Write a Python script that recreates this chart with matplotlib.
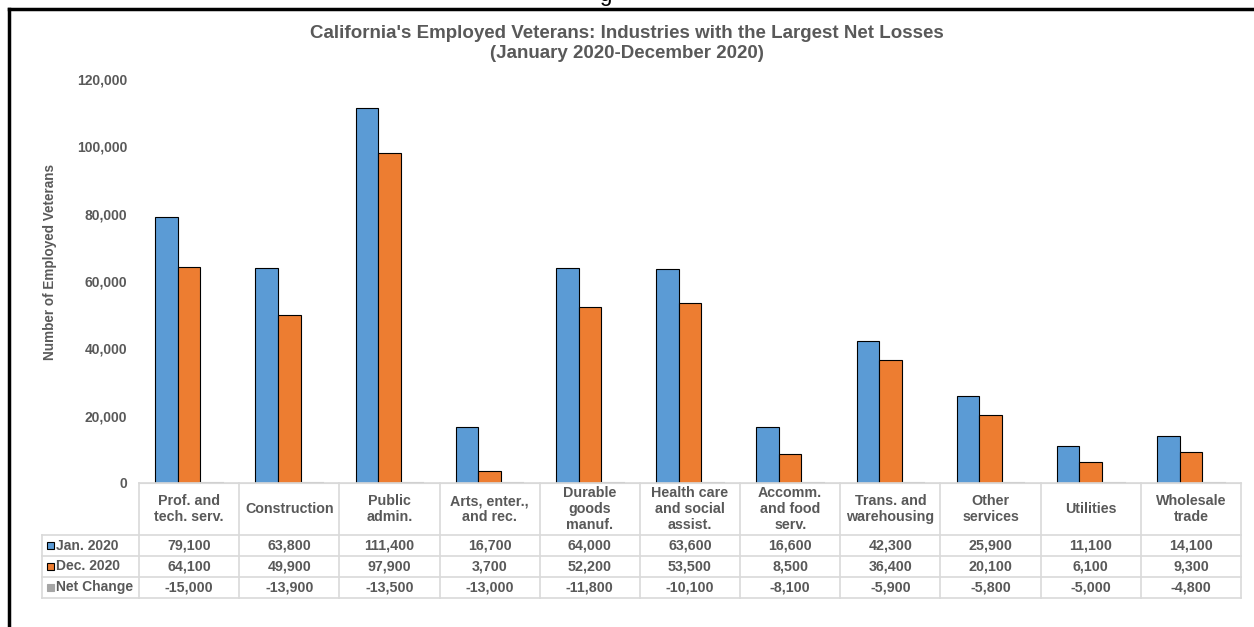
import numpy as np
import matplotlib
matplotlib.use("Agg")
import matplotlib.pyplot as plt
from matplotlib.lines import Line2D
from matplotlib.patches import Rectangle
import matplotlib.transforms as mtransforms

plt.rcParams['font.family'] = ['Liberation Sans', 'DejaVu Sans']

categories = ["Prof. and\ntech. serv.", "Construction", "Public\nadmin.", "Arts, enter.,\nand rec.",
              "Durable\ngoods\nmanuf.", "Health care\nand social\nassist.", "Accomm.\nand food\nserv.",
              "Trans. and\nwarehousing", "Other\nservices", "Utilities", "Wholesale\ntrade"]
jan_2020 = [79100, 63800, 111400, 16700, 64000, 63600, 16600, 42300, 25900, 11100, 14100]
dec_2020 = [64100, 49900, 97900, 3700, 52200, 53500, 8500, 36400, 20100, 6100, 9300]
net_change = [-15000, -13900, -13500, -13000, -11800, -10100, -8100, -5900, -5800, -5000, -4800]
series_names = ["Jan. 2020", "Dec. 2020", "Net Change"]
yticks = [0, 20000, 40000, 60000, 80000, 100000, 120000]

blue = '#5B9BD5'
orange = '#ED7D31'
gray = '#A5A5A5'
txt = '#595959'
grid = '#D9D9D9'

W, H = 1254, 627
fig = plt.figure(figsize=(W / 100, H / 100), dpi=100)

def fx(px):
    return px / W

def fy(py):
    return 1 - py / H

ax_left, ax_right, ax_bottom, ax_top = 139, 1241, 483, 79
ax = fig.add_axes([fx(ax_left), fy(ax_bottom), fx(ax_right - ax_left), fy(ax_top) - fy(ax_bottom)])

x = np.arange(len(categories))
w = 0.225
ax.bar(x - w, jan_2020, w, color=blue, edgecolor='black', linewidth=0.8)
ax.bar(x, dec_2020, w, color=orange, edgecolor='black', linewidth=0.8)
ax.bar(x + w, net_change, w, color=gray, edgecolor=gray, linewidth=1.5)

ax.set_xlim(-0.5, len(categories) - 0.5)
ax.set_ylim(0, 120000)
ax.set_yticks(yticks)
ax.set_yticklabels([f"{v:,}" for v in yticks], fontsize=10, fontweight='bold', color=txt)
ax.tick_params(axis='y', length=0, pad=8.5)
ax.set_xticks([])
for s in ['top', 'right', 'left']:
    ax.spines[s].set_visible(False)
ax.spines['bottom'].set_color(grid)

fig.text(fx(50), fy(262), "Number of Employed Veterans", rotation=90, ha='center', va='center',
         fontsize=9.75, fontweight='bold', color=txt)

fig.text(0.5, fy(34), "California's Employed Veterans: Industries with the Largest Net Losses",
         ha='center', va='center', fontsize=13.5, fontweight='bold', color=txt)
fig.text(0.5, fy(54), "(January 2020-December 2020)",
         ha='center', va='center', fontsize=13.5, fontweight='bold', color=txt)

# data table below the axis
trans = mtransforms.blended_transform_factory(ax.transData, fig.transFigure)
row_y = [483, 535, 556, 577, 598]
label_left = 42
n = len(categories)
lw = 1.2
for i, py in enumerate(row_y):
    x0 = ax_left if i == 0 else label_left
    fig.add_artist(Line2D([fx(x0), fx(ax_right)], [fy(py), fy(py)], color=grid, lw=lw))
for b in np.arange(-0.5, n, 1.0):
    fig.add_artist(Line2D([b, b], [fy(row_y[0]), fy(row_y[-1])], color=grid, lw=lw, transform=trans))
fig.add_artist(Line2D([fx(label_left), fx(label_left)], [fy(row_y[1]), fy(row_y[-1])], color=grid, lw=lw))

for i, c in enumerate(categories):
    fig.text(i, fy((row_y[0] + row_y[1]) / 2), c, transform=trans, ha='center', va='center',
             fontsize=10.3, fontweight='bold', color=txt, linespacing=1.15)

rows = [jan_2020, dec_2020, net_change]
keys = [(blue, 'black'), (orange, 'black'), (gray, gray)]
for r, vals in enumerate(rows):
    yc = fy((row_y[r + 1] + row_y[r + 2]) / 2)
    for i, v in enumerate(vals):
        fig.text(i, yc, f"{v:,}", transform=trans, ha='center', va='center',
                 fontsize=10.3, fontweight='bold', color=txt)
    fc, ec = keys[r]
    fig.add_artist(Rectangle((fx(47), yc - 3.5 / H), 7 / W, 7 / H, facecolor=fc, edgecolor=ec,
                             lw=0.8, transform=fig.transFigure))
    fig.text(fx(56), yc, series_names[r], ha='left', va='center',
             fontsize=10, fontweight='bold', color=txt)

# outer frame (cut-off page)
fig.add_artist(Line2D([fx(9), fx(9)], [fy(8.5), 0], color='black', lw=2.5))
fig.add_artist(Line2D([fx(9), 1], [fy(8.5), fy(8.5)], color='black', lw=2.5))
fig.text(fx(599), fy(0.5), "g", ha='left', va='baseline', fontsize=16, color='black')

fig.savefig("out.png", dpi=100)
